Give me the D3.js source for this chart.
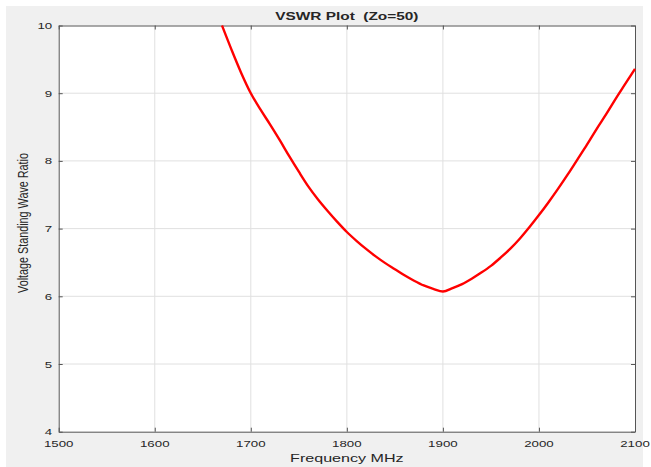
<!DOCTYPE html>
<html>
<head>
	<title>VSWR Plot</title>
	<script type="text/javascript" src="https://d3js.org/d3.v7.min.js"></script>
	<style>
		body{ margin: 0; background: white; }
		.chart text{
			font-family: "Liberation Sans", Arial, sans-serif;
			fill: #262626;
			white-space: pre;
		}
	</style>
</head>
<body>
<svg class="chart"></svg>

<script type="text/javascript">
	// VSWR readings (frequency in MHz)
	var freq = [1670, 1680, 1690, 1700, 1710, 1720, 1730, 1740, 1750, 1760, 1770, 1780, 1790,
		1800, 1810, 1820, 1830, 1840, 1850, 1860, 1870, 1880, 1890, 1900, 1910, 1920, 1930,
		1940, 1950, 1960, 1970, 1980, 1990, 2000, 2010, 2020, 2030, 2040, 2050, 2060, 2070,
		2080, 2090, 2100];
	var vswr = [10.0, 9.64, 9.30, 9.00, 8.76, 8.54, 8.31, 8.07, 7.84, 7.62, 7.43, 7.26, 7.10,
		6.95, 6.82, 6.70, 6.59, 6.49, 6.40, 6.31, 6.23, 6.16, 6.11, 6.07, 6.12, 6.18, 6.26,
		6.35, 6.45, 6.57, 6.70, 6.85, 7.02, 7.20, 7.39, 7.59, 7.80, 8.02, 8.24, 8.47, 8.69,
		8.92, 9.14, 9.36];
	var xTicks = [1500, 1600, 1700, 1800, 1900, 2000, 2100];
	var yTicks = [4, 5, 6, 7, 8, 9, 10];

	var width = 651, height = 467;
	// plot box edges ("top" is taken by window.top, so use other names)
	var pLeft = 58.7, pRight = 635, pTop = 25.5, pBottom = 431.7;
	var sx = 1.4; // the picture is stretched sideways, so text is too

	var x = d3.scaleLinear().domain([1500, 2100]).range([pLeft, pRight]);
	var y = d3.scaleLinear().domain([4, 10]).range([pBottom, pTop]);

	var chart = d3.select(".chart")
		.attr("width", width)
		.attr("height", height);

	// grey figure background
	chart.append("rect")
		.attr("x", 6).attr("y", 6)
		.attr("width", 637).attr("height", height - 6)
		.attr("fill", "#f0f0f0");

	chart.append("rect")
		.attr("x", pLeft).attr("y", pTop)
		.attr("width", pRight - pLeft).attr("height", pBottom - pTop)
		.attr("fill", "white");

	// grid
	chart.selectAll(".gx")
		.data(xTicks.slice(1, -1))
	  .enter().append("line")
		.attr("x1", x).attr("x2", x)
		.attr("y1", pTop).attr("y2", pBottom)
		.attr("stroke", "#e0e0e0");

	chart.selectAll(".gy")
		.data(yTicks.slice(1, -1))
	  .enter().append("line")
		.attr("x1", pLeft).attr("x2", pRight)
		.attr("y1", y).attr("y2", y)
		.attr("stroke", "#e0e0e0");

	// axes with inward ticks, box on
	var axisColor = "#555";
	chart.append("g")
		.attr("transform", "translate(0," + pBottom + ")")
		.call(d3.axisBottom(x).tickValues(xTicks).tickSizeInner(-4).tickSizeOuter(0).tickFormat(""));
	chart.append("g")
		.attr("transform", "translate(0," + pTop + ")")
		.call(d3.axisTop(x).tickValues(xTicks).tickSizeInner(-4).tickSizeOuter(0).tickFormat(""));
	chart.append("g")
		.attr("transform", "translate(" + pLeft + ",0)")
		.call(d3.axisLeft(y).tickValues(yTicks).tickSizeInner(-4).tickSizeOuter(0).tickFormat(""));
	chart.append("g")
		.attr("transform", "translate(" + pRight + ",0)")
		.call(d3.axisRight(y).tickValues(yTicks).tickSizeInner(-4).tickSizeOuter(0).tickFormat(""));
	chart.selectAll(".domain, .tick line").attr("stroke", axisColor);

	// tick labels, drawn by hand so they can be stretched like the picture
	chart.selectAll(".xl")
		.data(xTicks)
	  .enter().append("text")
		.attr("transform", function(d){ return "translate(" + x(d) + "," + (pBottom + 15) + ") scale(" + sx + ",1)"; })
		.attr("text-anchor", "middle")
		.style("font-size", "9.5px")
		.text(function(d){ return d; });

	chart.selectAll(".yl")
		.data(yTicks)
	  .enter().append("text")
		.attr("transform", function(d){ return "translate(" + (pLeft - 6.5) + "," + (y(d) + 3.5) + ") scale(" + sx + ",1)"; })
		.attr("text-anchor", "end")
		.style("font-size", "9.5px")
		.text(function(d){ return d; });

	// the VSWR curve
	var line = d3.line()
		.x(function(d, i){ return x(freq[i]); })
		.y(function(d){ return y(d); })
		.curve(d3.curveMonotoneX);

	chart.append("path")
		.datum(vswr)
		.attr("d", line)
		.attr("fill", "none")
		.attr("stroke", "#ff0000")
		.attr("stroke-width", 2.4);

	// title and labels
	chart.append("text")
		.attr("transform", "translate(" + (pLeft + pRight) / 2 + ",20) scale(" + sx + ",1)")
		.attr("text-anchor", "middle")
		.style("font-size", "11px")
		.style("font-weight", "bold")
		.text("VSWR Plot  (Zo=50)");

	chart.append("text")
		.attr("transform", "translate(" + (pLeft + pRight) / 2 + ",462) scale(" + sx + ",1)")
		.attr("text-anchor", "middle")
		.style("font-size", "11.5px")
		.text("Frequency MHz");

	chart.append("text")
		.attr("transform", "translate(28,223) scale(" + sx + ",1) rotate(-90)")
		.attr("text-anchor", "middle")
		.style("font-size", "10.8px")
		.text("Voltage Standing Wave Ratio");
</script>
</body>
</html>
